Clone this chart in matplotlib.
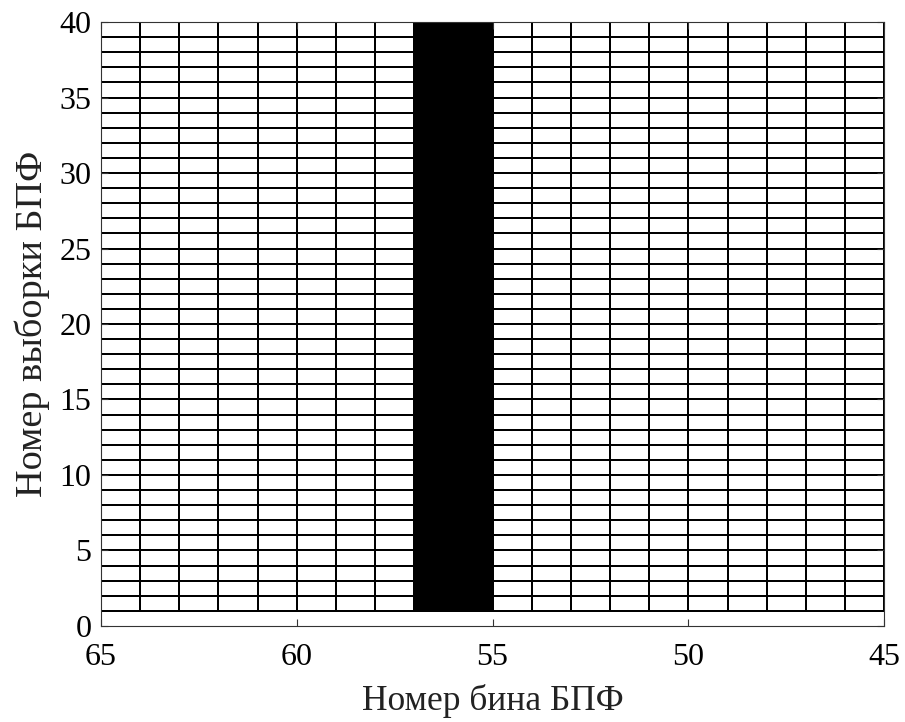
import numpy as np
import matplotlib.pyplot as plt
from matplotlib.colors import ListedColormap

# FFT bin edges and sample edges of the mesh
bin_edges = list(range(45, 66))
sample_edges = list(range(1, 41))
# bins (left edge) where the signal is present
peak_bins = [55, 56]

n_bins = len(bin_edges) - 1
n_samples = len(sample_edges) - 1
mag = np.zeros((n_samples, n_bins))
for b in peak_bins:
    mag[:, bin_edges.index(b)] = 1.0

plt.rcParams['font.family'] = ['Liberation Serif', 'DejaVu Serif']

fig = plt.figure(figsize=(9.05, 7.22), dpi=100)
ax = fig.add_axes([0.1116, 0.133, 0.8654, 0.8365])

cmap = ListedColormap(['white', 'black'])
ax.pcolormesh(bin_edges, sample_edges, mag, cmap=cmap, vmin=0, vmax=1,
              edgecolor='black', linewidth=1.1)

ax.set_xlim(65, 45)
ax.set_ylim(0, 40)
ax.set_xticks([65, 60, 55, 50, 45])
ax.set_yticks([0, 5, 10, 15, 20, 25, 30, 35, 40])
ax.tick_params(direction='in', length=5, width=0.8, top=True, right=True,
               color='#333333', labelsize=23)
ax.tick_params(axis='x', pad=12)
ax.tick_params(axis='y', pad=7)
for s in ax.spines.values():
    s.set_color('#333333')
    s.set_linewidth(0.8)

ax.set_xlabel('Номер бина БПФ', fontsize=25.5, labelpad=9, color='#222222')
ax.set_ylabel('Номер выборки БПФ', fontsize=27.5, labelpad=7, color='#222222')

plt.savefig('out.png', dpi=100)
